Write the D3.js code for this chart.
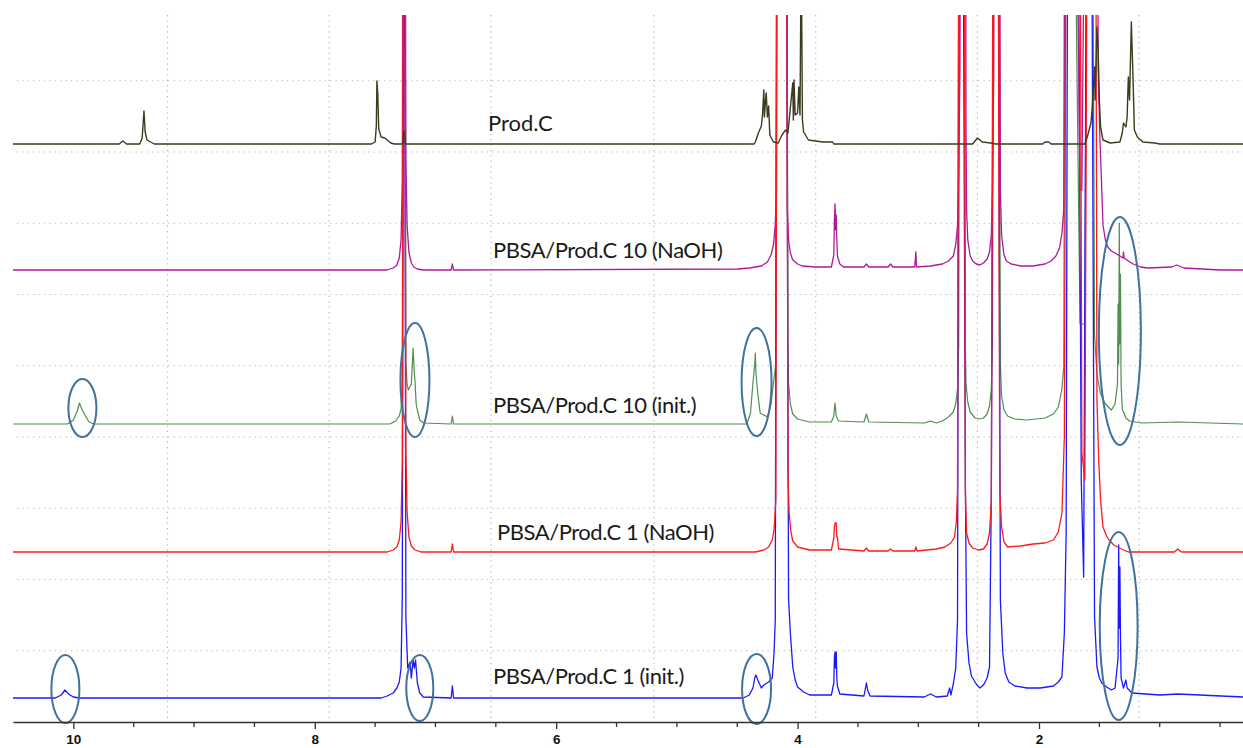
<!DOCTYPE html>
<html>
<head>
<meta charset="utf-8">
<script src="https://cdn.jsdelivr.net/npm/d3@7/dist/d3.min.js"></script>
<style>
  html, body { margin: 0; padding: 0; background: #fff; }
  svg { display: block; }
</style>
</head>
<body>
<svg id="chart" width="1243" height="748"></svg>
<script>
// ---------------- DATA ----------------
const seriesNames = ["Prod.C", "PBSA/Prod.C 10 (NaOH)", "PBSA/Prod.C 10 (init.)", "PBSA/Prod.C 1 (NaOH)", "PBSA/Prod.C 1 (init.)"];
const seriesOffsets = [578, 452, 298, 170, 24];   // stacking offset (intensity a.u.)
const axisTicks = [10, 8, 6, 4, 2];
const gridPpm = [9.22, 7.88, 6.54, 5.19, 3.85, 2.51, 1.17];

// [ppm, intensity above own baseline]; 700 = off scale
const prodC = [[10.5,0],[9.62,0],[9.59,3],[9.56,0],[9.45,0],[9.43,6],[9.415,33],[9.405,12],[9.39,4],[9.36,2],[9.33,0],
 [7.53,0],[7.50,2],[7.49,18],[7.485,63],[7.478,50],[7.47,15],[7.45,7],[7.42,6],[7.40,4],[7.37,1],[7.34,0],[7.27,0],[7.26,13],[7.25,0],
 [4.36,0],[4.35,2],[4.325,11],[4.30,18],[4.29,30],[4.28,54],[4.275,27],[4.265,45],[4.26,51],[4.25,27],[4.24,38],[4.23,9],[4.20,2],[4.16,1],
 [4.13,9],[4.10,14],[4.08,11],[4.04,61],[4.035,24],[4.03,64],[4.02,29],[4.00,31],[3.99,57],[3.98,29],[3.97,200],[3.96,24],[3.95,12],[3.91,4],[3.79,2],[3.71,2],[3.70,0],
 [2.55,0],[2.51,6],[2.47,2],[2.40,1],[2.36,0],[1.97,0],[1.95,2],[1.92,2],[1.90,0],
 [1.62,0],[1.60,7],[1.57,21],[1.56,34],[1.54,77],[1.535,44],[1.52,117],[1.51,94],[1.50,44],[1.49,17],[1.47,4],[1.41,1],
 [1.33,2],[1.31,11],[1.30,21],[1.28,17],[1.27,27],[1.26,67],[1.25,44],[1.235,122],[1.23,101],[1.22,61],[1.21,14],[1.185,7],[1.14,2],[1.04,1],[1.0,0],[0.31,0]];

const naoh10 = [[10.5,0],[7.40,0],[7.35,2],[7.32,5],[7.30,12],[7.285,30],[7.275,90],[7.265,700],[7.255,700],[7.245,110],[7.235,45],[7.22,18],[7.20,7],[7.18,3],[7.15,1],[7.10,0],
 [6.87,0],[6.86,6],[6.85,0],[4.50,1],[4.40,2],[4.30,4],[4.25,8],[4.22,15],[4.20,25],[4.185,45],[4.175,80],[4.165,700],[4.09,700],[4.085,60],[4.075,30],[4.06,17],[4.04,10],[4.00,6],[3.96,4],[3.85,3],
 [3.72,3],[3.70,15],[3.695,50],[3.69,66],[3.685,40],[3.68,55],[3.675,30],[3.67,14],[3.65,6],[3.62,3],
 [3.45,3],[3.43,6],[3.41,3],[3.25,3],[3.23,6],[3.21,3],[3.03,3],[3.02,18],[3.015,3],[2.90,4],[2.80,6],[2.75,9],[2.71,14],[2.69,25],[2.675,45],[2.665,100],[2.655,200],[2.645,700],[2.61,700],
 [2.605,150],[2.60,60],[2.59,30],[2.57,14],[2.55,9],[2.52,6],[2.49,5],[2.46,7],[2.43,11],[2.41,18],[2.395,35],[2.385,80],[2.375,200],[2.365,700],[2.33,700],[2.32,80],[2.31,35],[2.29,15],[2.27,9],[2.23,6],[2.15,4],
 [2.05,4],[1.95,6],[1.90,9],[1.86,14],[1.83,22],[1.81,37],[1.795,60],[1.78,700],[1.72,700],[1.66,80],[1.645,80],[1.60,700],[1.52,700],
 [1.51,200],[1.495,130],[1.48,80],[1.47,45],[1.45,30],[1.43,23],[1.40,19],[1.37,17],[1.33,14],[1.305,12],[1.30,18],[1.295,12],[1.26,9],[1.22,6],[1.16,3],[1.10,2],[0.90,3],[0.86,5],[0.80,2],[0.50,0],[0.31,0]];

const init10 = [[10.5,0],[10.05,0],[10.0,4],[9.97,12],[9.95,21],[9.93,15],[9.90,8],[9.87,2],[9.83,0],
 [7.38,0],[7.33,3],[7.30,8],[7.285,15],[7.275,40],[7.265,700],[7.255,700],[7.245,60],[7.235,40],[7.225,34],[7.20,40],[7.185,76],[7.175,50],[7.17,44],[7.16,20],[7.15,14],[7.13,4],[7.10,1],[6.87,0],[6.86,8],[6.85,0],
 [4.42,0],[4.39,11],[4.37,41],[4.355,60],[4.35,71],[4.345,50],[4.33,31],[4.31,11],[4.25,7],[4.22,20],[4.20,41],[4.18,60],[4.17,700],[4.09,700],[4.08,80],[4.075,41],[4.06,20],[4.04,10],[4.00,5],[3.90,2],
 [3.72,2],[3.70,8],[3.69,21],[3.68,8],[3.66,3],[3.45,2],[3.43,10],[3.41,2],[2.95,1],[2.90,3],[2.85,1],[2.80,3],[2.75,7],[2.71,12],[2.69,20],[2.675,35],[2.665,80],[2.655,700],[2.62,700],
 [2.61,80],[2.605,41],[2.59,22],[2.57,12],[2.53,6],[2.49,5],[2.46,6],[2.43,10],[2.41,18],[2.395,35],[2.385,80],[2.375,700],[2.335,700],[2.32,60],[2.31,28],[2.29,14],[2.26,8],[2.20,5],[2.10,4],
 [1.95,6],[1.88,10],[1.84,17],[1.81,35],[1.795,57],[1.78,700],[1.72,700],[1.66,100],[1.62,100],[1.60,700],[1.56,700],[1.54,90],[1.52,50],[1.49,30],[1.45,20],
 [1.40,14],[1.37,20],[1.35,40],[1.345,120],[1.34,60],[1.335,201],[1.33,80],[1.325,150],[1.32,40],[1.31,15],[1.28,6],[1.25,3],[1.15,1],[0.85,2],[0.31,0]];

const naoh1 = [[10.5,0],[7.40,0],[7.35,2],[7.32,5],[7.30,12],[7.285,30],[7.275,90],[7.265,700],[7.255,700],[7.245,100],[7.235,40],[7.22,15],[7.20,6],[7.17,2],[7.12,0],[6.87,0],[6.86,8],[6.85,0],
 [4.35,0],[4.28,2],[4.24,5],[4.21,12],[4.195,22],[4.18,52],[4.17,700],[4.09,700],[4.08,80],[4.07,39],[4.055,20],[4.04,11],[4.00,5],[3.90,2],
 [3.72,2],[3.70,14],[3.695,25],[3.69,29],[3.68,29],[3.675,15],[3.67,15],[3.66,3],[3.45,1],[3.43,4],[3.41,1],[3.25,1],[3.23,3],[3.21,1],[3.03,1],[3.02,5],[3.01,1],
 [2.85,3],[2.78,5],[2.73,9],[2.70,15],[2.685,30],[2.675,62],[2.665,700],[2.62,700],[2.61,60],[2.60,19],[2.58,9],[2.55,4],[2.50,2],[2.46,3],[2.43,8],[2.41,19],[2.395,50],[2.38,700],[2.34,700],[2.325,60],[2.31,25],[2.29,10],[2.26,5],
 [2.15,6],[2.05,8],[1.95,9],[1.88,12],[1.84,20],[1.81,39],[1.79,115],[1.775,700],[1.66,700],[1.645,99],[1.62,72],[1.60,700],[1.53,700],[1.52,152],[1.505,90],[1.49,52],[1.47,25],[1.44,16],[1.42,12],[1.38,7],[1.35,5],[1.30,2],[1.26,0],[0.88,0],[0.85,3],[0.82,0],[0.31,0]];

const init1 = [[10.5,0],[10.15,0],[10.10,3],[10.07,8],[10.04,4],[10.0,1],[9.95,0],[7.45,0],[7.40,2],[7.35,5],[7.32,10],[7.30,16],[7.285,30],[7.275,100],[7.265,700],[7.255,700],[7.245,80],[7.23,30],
 [7.21,36],[7.20,20],[7.185,38],[7.175,30],[7.165,38],[7.15,15],[7.13,5],[7.10,1],[6.87,0],[6.86,12],[6.85,0],
 [4.45,0],[4.40,3],[4.37,10],[4.355,20],[4.345,23],[4.33,18],[4.30,10],[4.28,13],[4.24,16],[4.21,20],[4.195,45],[4.185,78],[4.175,700],[4.09,700],[4.075,100],[4.06,65],[4.04,31],[4.02,18],[4.00,11],[3.95,6],[3.90,3],
 [3.72,3],[3.70,15],[3.695,40],[3.69,46],[3.685,30],[3.68,46],[3.675,20],[3.67,12],[3.65,4],[3.45,2],[3.43,15],[3.42,8],[3.40,2],[2.95,1],[2.90,4],[2.85,1],[2.76,2],[2.74,10],[2.73,3],
 [2.71,14],[2.69,30],[2.675,78],[2.665,700],[2.625,700],[2.61,215],[2.60,65],[2.58,35],[2.56,22],[2.52,14],[2.49,10],[2.46,13],[2.43,20],[2.41,31],[2.395,205],[2.38,700],[2.335,700],[2.32,98],[2.30,45],[2.28,25],[2.25,16],[2.20,12],[2.10,10],[1.99,10],
 [1.88,12],[1.84,16],[1.81,21],[1.79,65],[1.775,165],[1.765,700],[1.67,700],[1.65,218],[1.63,121],[1.61,700],[1.56,700],[1.54,81],[1.52,31],[1.50,20],[1.48,15],[1.44,11],[1.40,8],[1.37,10],[1.345,40],[1.34,153],[1.335,70],[1.33,131],
 [1.325,60],[1.32,20],[1.30,10],[1.28,18],[1.27,10],[1.23,5],[1.0,3],[0.85,4],[0.31,1]];

const seriesData = [prodC, naoh10, init10, naoh1, init1];

// annotation ellipses: [ppm centre, intensity centre, ppm half-width, intensity half-height]
const ellipses = [[9.925,314,0.116,29],[7.17,342,0.12,57],[4.34,340,0.124,54],[1.33,391,0.174,114],
                  [10.066,33,0.116,34],[7.13,34,0.112,33],[4.34,33,0.12,35],[1.34,96,0.157,94]];

// ---------------- DRAWING ----------------
const W = 1243, H = 748;
const svg = d3.select("#chart");
const x = d3.scaleLinear().domain([10.5, 0.31]).range([13, 1243]);
const y = d3.scaleLinear().domain([0, 707]).range([722, 15]);
const gridStep = 71.25;

const colors = ["#3b3b1e", "#b0199c", "#4f8f4f", "#ff1a1a", "#1a1aff"];
const widths = [1.4, 1.3, 1.2, 1.3, 1.3];

svg.append("defs").append("clipPath").attr("id", "plotclip")
  .append("rect").attr("x", 11).attr("y", 15).attr("width", W - 11).attr("height", 707);

// grid
const grid = svg.append("g").attr("stroke", "#b5b5b5").attr("stroke-width", 1.2).attr("stroke-dasharray", "1.2,4.2");
grid.selectAll("line.h").data(d3.range(1, 10)).join("line")
  .attr("x1", 17).attr("x2", W).attr("y1", k => y(k * gridStep)).attr("y2", k => y(k * gridStep));
grid.selectAll("line.v").data(gridPpm).join("line")
  .attr("x1", d => x(d)).attr("x2", d => x(d)).attr("y1", 15).attr("y2", 720);

// spectra
const line = d3.line().x(d => x(d[0])).y(d => d[1]);
const plot = svg.append("g").attr("clip-path", "url(#plotclip)");
const drawOrder = [2, 4, 1, 3, 0];
drawOrder.forEach(i => {
  const pts = seriesData[i].map(p => [p[0], y(seriesOffsets[i] + p[1])]);
  plot.append("path").attr("d", line(pts)).attr("fill", "none")
    .attr("stroke", colors[i]).attr("stroke-width", widths[i]).attr("stroke-linejoin", "round");
});

// ellipses
svg.append("g").selectAll("ellipse").data(ellipses).join("ellipse")
  .attr("cx", d => x(d[0])).attr("cy", d => y(d[1]))
  .attr("rx", d => Math.abs(x(d[0] + d[2]) - x(d[0])))
  .attr("ry", d => Math.abs(y(d[1] + d[3]) - y(d[1])))
  .attr("fill", "none").attr("stroke", "#41719c").attr("stroke-width", 2);

// labels
const labelPos = [[488, 131], [493, 258], [493, 413], [497, 540], [493, 684]];
svg.append("g").selectAll("text").data(seriesNames).join("text")
  .attr("x", (d, i) => labelPos[i][0]).attr("y", (d, i) => labelPos[i][1])
  .attr("font-family", "Lato, 'Open Sans', sans-serif").attr("font-size", 22).attr("fill", "#1a1a1a")
  .attr("letter-spacing", (d, i) => i === 0 ? 0 : -0.45)
  .text(d => d);

// axis
const axisG = svg.append("g").attr("transform", "translate(0,722)");
const minor = d3.range(1, 21).map(k => k * 0.5).filter(v => v >= 0.31 && v <= 10.5 && !axisTicks.includes(v));
axisG.selectAll("line.minor").data(minor).join("line")
  .attr("x1", d => x(d)).attr("x2", d => x(d)).attr("y1", 0).attr("y2", 5)
  .attr("stroke", "#333").attr("stroke-width", 1.3);
const axis = d3.axisBottom(x).tickValues(axisTicks).tickSize(7).tickSizeOuter(0).tickFormat(d3.format("d"));
axisG.call(axis);
axisG.select(".domain").attr("stroke", "#333").attr("stroke-width", 1.5);
axisG.selectAll(".tick line").attr("stroke", "#333").attr("stroke-width", 1.3);
axisG.selectAll(".tick text").attr("font-family", "Arial, 'Liberation Sans', sans-serif")
  .attr("font-weight", "bold").attr("font-size", 13.5).attr("fill", "#111")
  .attr("y", 21.5).attr("dy", 0);
</script>
</body>
</html>
